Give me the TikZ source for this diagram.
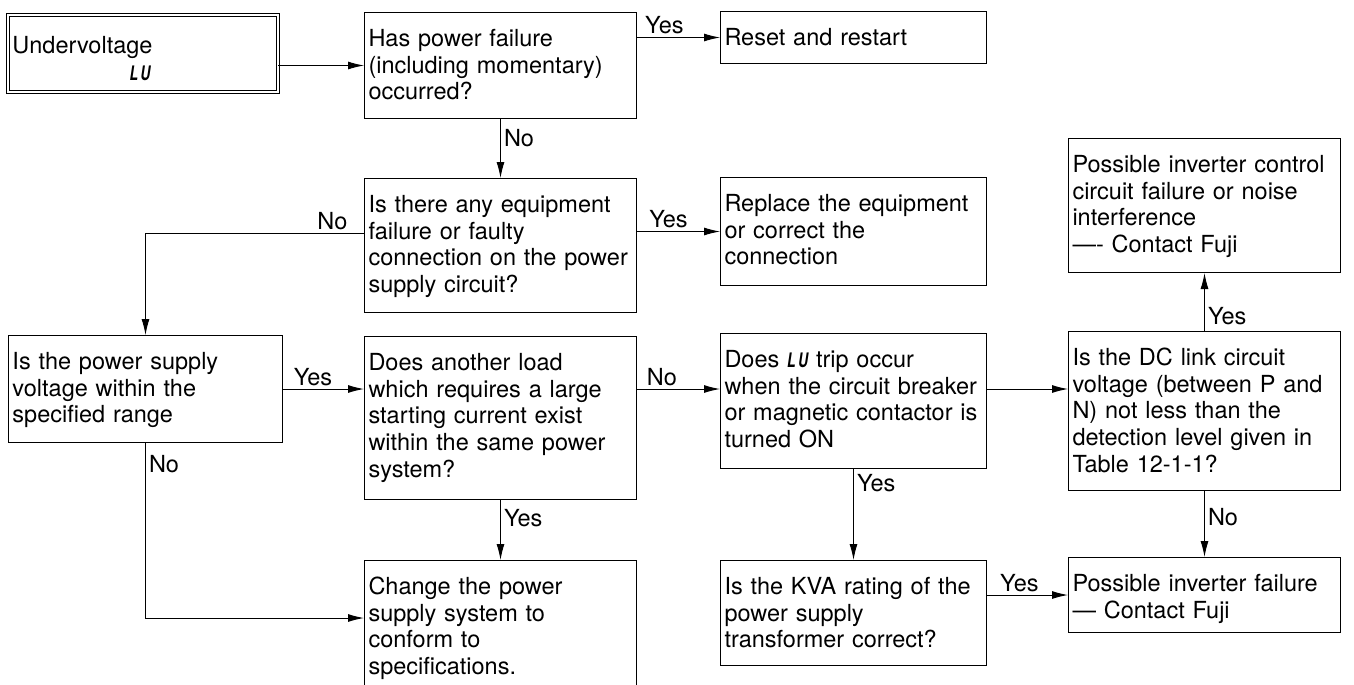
\documentclass[tikz,border=0pt]{standalone}
\usepackage{fontspec}
\setmainfont{TeX Gyre Heros}
\usetikzlibrary{arrows.meta,calc}

\newcommand{\LUsym}{\scalebox{0.7}[1]{\fontsize{20}{20}\selectfont\bfseries\itshape L\,U}}

\tikzset{
  box/.style={draw, line width=1pt, anchor=north west, align=left,
    inner xsep=4pt, inner ysep=0pt, text height=34pt,
    font=\fontsize{23.5}{26.7}\selectfont},
  uvbox/.style={box, double, double distance=2pt, inner xsep=5pt, text height=38pt},
  arr/.style={-{Latex[length=16pt,width=8pt]}, line width=1pt},
  lbl/.style={font=\fontsize{23.5}{26.7}\selectfont, inner sep=3pt}
}

\begin{document}
\begin{tikzpicture}[x=1pt,y=1pt]
\useasboundingbox (0,0) rectangle (1354,-685);

% first row
\node[uvbox, text width=260pt, text depth=38pt] (uv) at (7,-15)
  {Undervoltage\\\hspace*{117pt}\LUsym};
\node[box, text width=264pt, text depth=72pt] (has) at (364,-12)
  {Has power failure\\(including momentary)\\occurred?};
\node[box, text width=258pt, text depth=18pt] (reset) at (720,-11)
  {Reset and restart};

% second row
\node[box, text width=264pt, text depth=100pt] (isthere) at (364,-178)
  {Is there any equipment\\failure or faulty\\connection on the power\\supply circuit?};
\node[box, text width=258pt, text depth=74pt] (replace) at (720,-177)
  {Replace the equipment\\or correct the\\connection};
\node[box, text width=264pt, text depth=100pt] (pctrl) at (1068,-138)
  {Possible inverter control\\circuit failure or noise\\interference\\---- Contact Fuji};

% third row
\node[box, text width=266pt, text depth=73pt] (ispower) at (8,-335)
  {Is the power supply\\voltage within the\\specified range};
\node[box, text width=264pt, text depth=129pt] (another) at (364,-336)
  {Does another load\\which requires a large\\starting current exist\\within the same power\\system?};
\node[box, text width=258pt, text depth=101pt] (doeslu) at (720,-333)
  {Does \LUsym{} trip occur\\when the circuit breaker\\or magnetic contactor is\\turned ON};
\node[box, text width=264pt, text depth=125pt] (dc) at (1068,-331)
  {Is the DC link circuit\\voltage (between P and\\N) not less than the\\detection level given in\\Table 12-1-1?};

% last row
\node[box, text width=264pt, text depth=106pt] (chg) at (364,-560)
  {Change the power\\supply system to\\conform to\\specifications.};
\node[box, text width=258pt, text depth=71pt] (kva) at (720,-560)
  {Is the KVA rating of the\\power supply\\transformer correct?};
\node[box, text width=264pt, text depth=41pt] (pfail) at (1068,-557)
  {Possible inverter failure\\--- Contact Fuji};

\coordinate (chgin) at ([yshift=-58pt]chg.north west);

% connectors
\draw[arr] (uv.east |- has.west) -- (has.west);
\draw[arr] (has.east |- reset.west) -- node[lbl, above, pos=0.33] {Yes} (reset.west);
\draw[arr] (has.south) -- node[lbl, right, pos=0.32] {No} (isthere.north);
\draw[arr] (isthere.east |- replace.west) -- node[lbl, above, pos=0.38] {Yes} (replace.west);
\draw[arr] ([yshift=12pt]isthere.west) -| node[lbl, above left, pos=0.03] {No} (ispower.north);
\draw[arr] (ispower.east) -- node[lbl, above, pos=0.37] {Yes} (ispower.east -| another.west);
\draw[arr] (another.east |- ispower.east) -- node[lbl, above, pos=0.3] {No} (ispower.east -| doeslu.west);
\draw[arr] (doeslu.east |- ispower.east) -- (ispower.east -| dc.west);
\draw[arr] (ispower.south) |- node[lbl, right, pos=0.06] {No} (chgin);
\draw[arr] (another.south) -- node[lbl, right, pos=0.31] {Yes} (chg.north);
\draw[arr] (doeslu.south) -- node[lbl, right, pos=0.16] {Yes} (kva.north);
\draw[arr] (kva.east |- pfail.west) -- node[lbl, above, pos=0.4] {Yes} (pfail.west);
\draw[arr] (dc.north) -- node[lbl, right, pos=0.25] {Yes} (pctrl.south);
\draw[arr] (dc.south) -- node[lbl, right, pos=0.4] {No} (pfail.north);
\end{tikzpicture}
\end{document}
